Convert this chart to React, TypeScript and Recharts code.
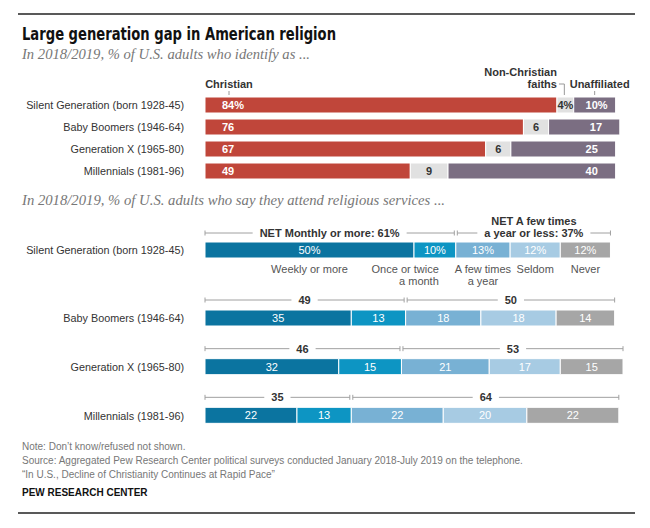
import React from 'react';
import { BarChart, Bar, XAxis, YAxis, LabelList } from 'recharts';

// ---------- data ----------
const generations = [
  'Silent Generation (born 1928-45)',
  'Baby Boomers (1946-64)',
  'Generation X (1965-80)',
  'Millennials (1981-96)',
];
const christian = [84, 76, 67, 49];
const nonChristian = [4, 6, 6, 9];
const unaffiliated = [10, 17, 25, 40];

const weekly = [50, 35, 32, 22];
const monthly = [10, 13, 15, 13];
const fewTimes = [13, 18, 21, 22];
const seldom = [12, 18, 17, 20];
const never = [12, 14, 15, 22];
const netMonthly = [61, 49, 46, 35];
const netYearly = [37, 50, 53, 64];

const identityHeaders = ['Christian', ['Non-Christian', 'faiths'], 'Unaffiliated'];
const attendLabelLines = [
  ['Weekly or more'],
  ['Once or twice', 'a month'],
  ['A few times', 'a year'],
  ['Seldom'],
  ['Never'],
];
const netMonthlyTitle = 'NET Monthly or more:';
const netYearlyTitle = ['NET A few times', 'a year or less:'];

const titleText = 'Large generation gap in American religion';
const subtitle1 = 'In 2018/2019, % of U.S. adults who identify as ...';
const subtitle2 = 'In 2018/2019, % of U.S. adults who say they attend religious services ...';
const notes = [
  'Note: Don\u2019t know/refused not shown.',
  'Source: Aggregated Pew Research Center political surveys conducted January 2018-July 2019 on the telephone.',
  '\u201CIn U.S., Decline of Christianity Continues at Rapid Pace\u201D',
];
const credit = 'PEW RESEARCH CENTER';

// ---------- styles ----------
const FONT = '"Liberation Sans", Arial, Helvetica, sans-serif';
const NARROW = '"Liberation Sans Narrow", "DejaVu Sans Condensed", "Liberation Sans", sans-serif';
const SERIF = '"Liberation Serif", "DejaVu Serif", serif';
const RED = '#c0463a';
const LIGHTGRAY = '#e1e1e1';
const PURPLE = '#7b6e82';
const BLUES = ['#0b74a0', '#0d95c3', '#78b1d4', '#a7cbe3', '#a6a6a6'];
const LABEL = '#333';

const identityData = generations.map((g, i) => ({
  gen: g,
  christian: christian[i],
  nonChristian: nonChristian[i],
  unaffiliated: unaffiliated[i],
}));
const attendData = generations.map((g, i) => ({
  gen: g,
  weekly: weekly[i],
  monthly: monthly[i],
  fewTimes: fewTimes[i],
  seldom: seldom[i],
  never: never[i],
}));
const attendSeries = [weekly, monthly, fewTimes, seldom, never];
const attendKeys = ['weekly', 'monthly', 'fewTimes', 'seldom', 'never'];

let ctx: CanvasRenderingContext2D | null = null;
const measure = (t: string, font: string) => {
  if (typeof document === 'undefined') return t.length * 6;
  if (!ctx) ctx = document.createElement('canvas').getContext('2d');
  if (!ctx) return t.length * 6;
  ctx.font = font;
  return ctx.measureText(t).width;
};

const getBox = (p: any) => {
  const vb = p.viewBox && p.viewBox.width != null ? p.viewBox : p;
  return { x: Number(vb.x), y: Number(vb.y), w: Number(vb.width), h: Number(vb.height) };
};

const GenTick = (p: any) => (
  <text x={p.x} y={p.y} dy="0.36em" textAnchor="end" fill={LABEL} fontSize={10.8} fontFamily={FONT}>
    {p.payload && p.payload.value}
  </text>
);

// ---------- chart 1 labels ----------
const christianLabel = (p: any) => {
  const { x, y, h } = getBox(p);
  const i = p.index;
  const v = christian[i];
  return (
    <g>
      <text x={x + 17} y={y + h / 2} dy="0.36em" fill="#fff" fontWeight="bold" fontSize={11} fontFamily={FONT}>
        {i === 0 ? `${v}%` : v}
      </text>
      {i === 0 && (
        <g>
          <text x={x + 24} y={y - 9} textAnchor="middle" fill={LABEL} fontWeight="bold" fontSize={11} fontFamily={FONT}>
            {identityHeaders[0] as string}
          </text>
          <line x1={x + 24} x2={x + 24} y1={y - 6} y2={y - 2} stroke="#999" />
        </g>
      )}
    </g>
  );
};

const nonChristianLabel = (p: any) => {
  const { x, y, w, h } = getBox(p);
  const i = p.index;
  const v = nonChristian[i];
  const hdr = identityHeaders[1] as string[];
  return (
    <g>
      <text x={x + w / 2} y={y + h / 2} dy="0.36em" textAnchor="middle" fill={LABEL} fontWeight="bold" fontSize={11} fontFamily={FONT}>
        {i === 0 ? `${v}%` : v}
      </text>
      {i === 0 && (
        <g>
          <text x={x} y={y - 21} textAnchor="end" fill={LABEL} fontWeight="bold" fontSize={11} fontFamily={FONT}>{hdr[0]}</text>
          <text x={x} y={y - 9} textAnchor="end" fill={LABEL} fontWeight="bold" fontSize={11} fontFamily={FONT}>{hdr[1]}</text>
          <path d={`M${x + 2},${y - 13} H${x + w / 2 - 1} V${y - 2}`} fill="none" stroke="#999" />
        </g>
      )}
    </g>
  );
};

const unaffiliatedLabel = (p: any) => {
  const { x, y, w, h } = getBox(p);
  const i = p.index;
  const v = unaffiliated[i];
  return (
    <g>
      <text x={x + w - 30} y={y + h / 2} dy="0.36em" fill="#fff" fontWeight="bold" fontSize={11} fontFamily={FONT}>
        {i === 0 ? `${v}%` : v}
      </text>
      {i === 0 && (
        <g>
          <text x={x + w / 2 + 5} y={y - 9} textAnchor="middle" fill={LABEL} fontWeight="bold" fontSize={11} fontFamily={FONT}>
            {identityHeaders[2] as string}
          </text>
          <line x1={x + w / 2} x2={x + w / 2} y1={y - 6} y2={y - 2} stroke="#999" />
        </g>
      )}
    </g>
  );
};

// ---------- chart 2 labels ----------
const makeAttendLabel = (s: number, offset: number, showCats: boolean) => (p: any) => {
  const { x, y, w, h } = getBox(p);
  const gi = p.index + offset;
  const v = attendSeries[s][gi];
  const lines = attendLabelLines[s];
  let cx = x + w / 2;
  let anchor: 'middle' | 'end' = 'middle';
  if (s === 1) {
    cx = x + w - 17;
    anchor = 'end';
  }
  return (
    <g>
      <text x={x + w / 2} y={y + h / 2} dy="0.36em" textAnchor="middle" fill="#fff" fontSize={11} fontFamily={FONT}>
        {gi === 0 ? `${v}%` : v}
      </text>
      {showCats &&
        lines.map((ln, k) => (
          <text key={k} x={cx} y={y + h + 11 + k * 12} dy="0.36em" textAnchor={anchor} fill="#555" fontSize={11} fontFamily={FONT}>
            {ln}
          </text>
        ))}
    </g>
  );
};

const bracket = (x0: number, x1: number, y: number, lines: string[]) => {
  const cx = (x0 + x1) / 2;
  const tw = measure(lines[lines.length - 1], `bold 11px ${FONT}`);
  const gap = 7;
  const stroke = '#a0a0a0';
  return (
    <g>
      <line x1={x0} x2={cx - tw / 2 - gap} y1={y} y2={y} stroke={stroke} />
      <line x1={cx + tw / 2 + gap} x2={x1} y1={y} y2={y} stroke={stroke} />
      <line x1={x0} x2={x0} y1={y - 2.5} y2={y + 2.5} stroke={stroke} />
      <line x1={x1} x2={x1} y1={y - 2.5} y2={y + 2.5} stroke={stroke} />
      {lines.map((t, k) => (
        <text key={k} x={cx} y={y - (lines.length - 1 - k) * 12} dy="0.36em" textAnchor="middle" fill={LABEL} fontWeight="bold" fontSize={11} fontFamily={FONT}>
          {t}
        </text>
      ))}
    </g>
  );
};

const makeBrackets = (offset: number) => (p: any) => {
  const { x, y, w } = getBox(p);
  const gi = p.index + offset;
  const unit = w / weekly[gi];
  const mid = x + (weekly[gi] + monthly[gi]) * unit;
  const end = x + (weekly[gi] + monthly[gi] + fewTimes[gi] + seldom[gi] + never[gi]) * unit;
  const by = y - (gi === 0 ? 9 : 10);
  const left = gi === 0 ? [`${netMonthlyTitle} ${netMonthly[gi]}%`] : [String(netMonthly[gi])];
  const right = gi === 0 ? [netYearlyTitle[0], `${netYearlyTitle[1]} ${netYearly[gi]}%`] : [String(netYearly[gi])];
  return (
    <g>
      {bracket(x, mid - 1.5, by, left)}
      {bracket(mid + 1.5, end, by, right)}
    </g>
  );
};

const yAxisProps = {
  type: 'category' as const,
  dataKey: 'gen',
  width: 205,
  tickLine: false,
  axisLine: false,
  tickSize: 0,
  tickMargin: 21,
  interval: 0,
  tick: <GenTick />,
};

const AttendChart = ({ rows, offset, height, top, marginTop, marginBottom, showCats }: any) => (
  <div style={{ position: 'absolute', left: 0, top }}>
    <BarChart
      layout="vertical"
      width={650}
      height={height}
      data={rows}
      margin={{ top: marginTop, right: 27, bottom: marginBottom, left: 0 }}
      barSize={16}
    >
      <XAxis type="number" domain={[0, 100]} hide />
      <YAxis {...yAxisProps} />
      {attendKeys.map((k, s) => (
        <Bar key={k} dataKey={k} stackId="a" fill={BLUES[s]} stroke="#fff" strokeWidth={1} isAnimationActive={false}>
          <LabelList dataKey={k} content={makeAttendLabel(s, offset, showCats)} />
          {s === 0 && <LabelList dataKey={k} content={makeBrackets(offset)} />}
        </Bar>
      ))}
    </BarChart>
  </div>
);

export default function App() {
  return (
    <div style={{ position: 'absolute', left: 0, top: 0, width: 650, height: 528, background: '#fff', overflow: 'hidden' }}>
      <svg width={650} height={528} style={{ position: 'absolute', left: 0, top: 0 }}>
        <line x1={18} x2={635} y1={14} y2={14} stroke="#222" strokeWidth={1.5} />
        <text x={22} y={40} fontFamily={NARROW} fontWeight="bold" fontSize={18} fill="#111" textLength={314} lengthAdjust="spacingAndGlyphs">
          {titleText}
        </text>
        <text x={22} y={59} fontFamily={SERIF} fontStyle="italic" fontSize={14} fill="#777" textLength={288} lengthAdjust="spacingAndGlyphs">
          {subtitle1}
        </text>
        <text x={22} y={205} fontFamily={SERIF} fontStyle="italic" fontSize={14} fill="#777" textLength={423} lengthAdjust="spacingAndGlyphs">
          {subtitle2}
        </text>
        {notes.map((n, i) => (
          <text key={i} x={22} y={450 + i * 14} fontFamily={FONT} fontSize={10} fill="#777">
            {n}
          </text>
        ))}
        <text x={22} y={496} fontFamily={FONT} fontWeight="bold" fontSize={10} fill="#111">
          {credit}
        </text>
        <line x1={18} x2={635} y1={513} y2={513} stroke="#222" strokeWidth={1.5} />
      </svg>

      <div style={{ position: 'absolute', left: 0, top: 60 }}>
        <BarChart
          layout="vertical"
          width={650}
          height={130}
          data={identityData}
          margin={{ top: 34, right: 26, bottom: 8, left: 0 }}
          barSize={16}
        >
          <XAxis type="number" domain={[0, 100]} hide />
          <YAxis {...yAxisProps} />
          <Bar dataKey="christian" stackId="a" fill={RED} stroke="#fff" strokeWidth={1} isAnimationActive={false}>
            <LabelList dataKey="christian" content={christianLabel} />
          </Bar>
          <Bar dataKey="nonChristian" stackId="a" fill={LIGHTGRAY} stroke="#fff" strokeWidth={1} isAnimationActive={false}>
            <LabelList dataKey="nonChristian" content={nonChristianLabel} />
          </Bar>
          <Bar dataKey="unaffiliated" stackId="a" fill={PURPLE} stroke="#fff" strokeWidth={1} isAnimationActive={false}>
            <LabelList dataKey="unaffiliated" content={unaffiliatedLabel} />
          </Bar>
        </BarChart>
      </div>

      <AttendChart rows={attendData.slice(0, 1)} offset={0} height={86} top={205} marginTop={34} marginBottom={30} showCats={true} />
      <AttendChart rows={attendData.slice(1)} offset={1} height={164} top={280} marginTop={14} marginBottom={4} showCats={false} />
    </div>
  );
}
